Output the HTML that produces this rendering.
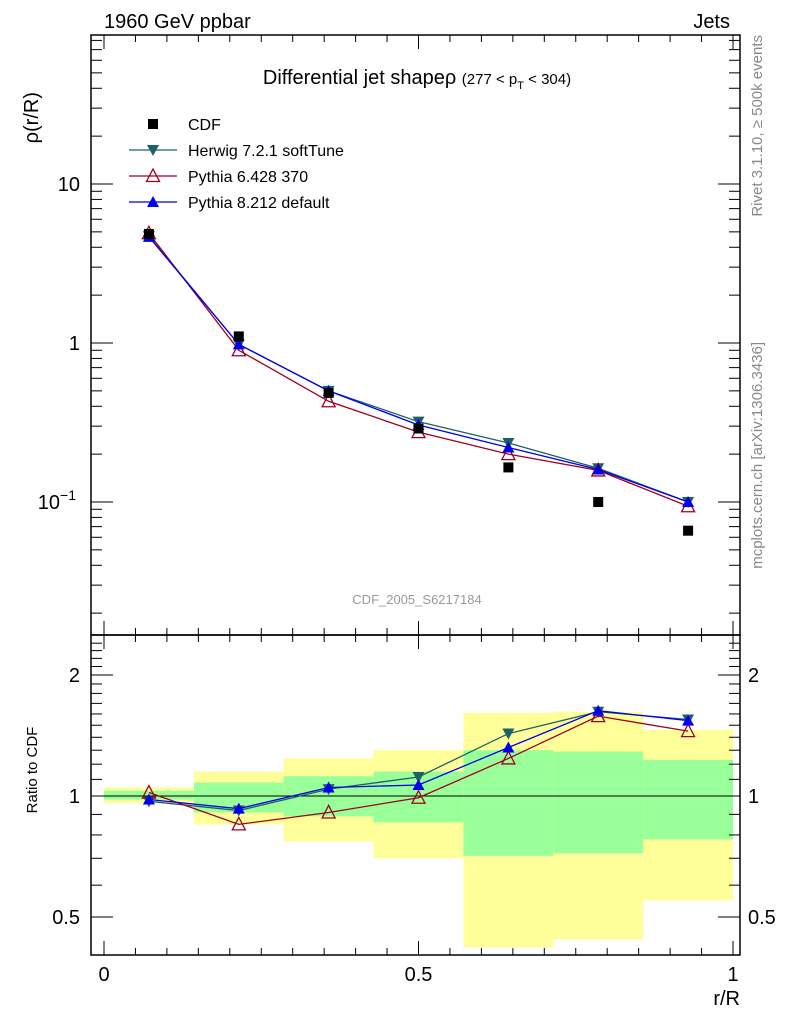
<!DOCTYPE html>
<html><head><meta charset="utf-8"><style>
html,body{margin:0;padding:0;background:#fff;overflow:hidden;width:786px;height:1024px;}
svg{display:block;font-family:"Liberation Sans",sans-serif;}
</style></head><body>
<svg id="c" width="786" height="1024" xmlns="http://www.w3.org/2000/svg">
<text x="104" y="28" font-size="20">1960 GeV ppbar</text>
<text x="730" y="28" font-size="20" text-anchor="end">Jets</text>
<text x="417" y="84" font-size="20" text-anchor="middle">Differential jet shapeρ <tspan font-size="15">(277 &lt; p</tspan><tspan font-size="11" dy="5">T</tspan><tspan font-size="15" dy="-5"> &lt; 304)</tspan></text>
<text transform="translate(38,92) rotate(-90)" font-size="20" text-anchor="end">ρ(r/R)</text>
<text transform="translate(37,770) rotate(-90)" font-size="15" text-anchor="middle">Ratio to CDF</text>
<text x="740" y="1005" font-size="20" text-anchor="end">r/R</text>
<text transform="translate(762,35) rotate(-90)" font-size="15" fill="#888" text-anchor="end">Rivet 3.1.10, ≥ 500k events</text>
<text transform="translate(762,342) rotate(-90)" font-size="15" fill="#888" text-anchor="end">mcplots.cern.ch [arXiv:1306.3436]</text>
<text x="417" y="604" font-size="13" fill="#999" text-anchor="middle">CDF_2005_S6217184</text>
<g id="bands"></g><g id="main"></g><g id="ratio"></g><g id="axes"></g>
<g id="legend"></g>
</svg>
<script>
const xCenters=[0.0714,0.2143,0.3571,0.5,0.6429,0.7857,0.9286];
const binEdges=[0,0.1429,0.2857,0.4286,0.5714,0.7143,0.8571,1.0];
const cdf=[4.85,1.1,0.485,0.29,0.165,0.1,0.066];
const herwig=[4.7,0.98,0.5,0.32,0.235,0.163,0.1];
const pythia6=[4.9,0.9,0.43,0.275,0.2,0.158,0.094];
const pythia8=[4.65,0.98,0.5,0.305,0.22,0.16,0.1];
const herwigRatio=[0.97,0.92,1.04,1.115,1.43,1.62,1.55];
const pythia6Ratio=[1.02,0.85,0.91,0.99,1.24,1.58,1.45];
const pythia8Ratio=[0.98,0.93,1.05,1.065,1.32,1.63,1.54];
const yellowHi=[1.05,1.15,1.24,1.30,1.61,1.62,1.46];
const yellowLo=[0.96,0.85,0.77,0.70,0.42,0.44,0.55];
const greenHi=[1.03,1.08,1.12,1.15,1.30,1.29,1.23];
const greenLo=[0.98,0.91,0.89,0.86,0.71,0.72,0.78];
const ratioTicks=[0.5,1,2];
const xTicks=[0,0.5,1];

const NS="http://www.w3.org/2000/svg";
const L=91,R=740,T=35,MB=635,RB=955;
const X=v=>104+v*629;
const Y=v=>343-159*Math.log10(v);
const YR=v=>796-121*Math.log2(v);
function mk(p,tag,at){const e=document.createElementNS(NS,tag);for(const k in at)e.setAttribute(k,at[k]);document.getElementById(p).appendChild(e);return e;}

for(let i=0;i<7;i++){
 let e=mk('bands','rect',{x:X(binEdges[i]),y:YR(yellowHi[i]),width:X(binEdges[i+1])-X(binEdges[i]),height:YR(yellowLo[i])-YR(yellowHi[i]),fill:'#ffff99'});
 
 
 let g=mk('bands','rect',{x:X(binEdges[i]),y:YR(greenHi[i]),width:X(binEdges[i+1])-X(binEdges[i]),height:YR(greenLo[i])-YR(greenHi[i]),fill:'#99ff99'});
 
 
}
let one=mk('bands','line',{x1:L,x2:R,y1:YR(1),y2:YR(1),stroke:'#000','stroke-width':1});



function marker(p,type,x,y,col,name){
 let e;
 if(type==='sq') e=mk(p,'rect',{x:x-5,y:y-5,width:10,height:10,fill:'#000'});
 else if(type==='down') e=mk(p,'polygon',{points:`${x-6},${y-5} ${x+6},${y-5} ${x},${y+6}`,fill:col});
 else if(type==='up') e=mk(p,'polygon',{points:`${x-6},${y+5} ${x+6},${y+5} ${x},${y-6}`,fill:col});
 else e=mk(p,'polygon',{points:`${x-6.5},${y+5.5} ${x+6.5},${y+5.5} ${x},${y-7}`,fill:'none',stroke:col,'stroke-width':1.3});
 
 
}
function series(p,vals,yf,col,type,name){
 const pl=mk(p,'polyline',{points:vals.map((v,i)=>X(xCenters[i])+','+yf(v)).join(' '),fill:'none',stroke:col,'stroke-width':1.3});
 
 
 vals.forEach((v,i)=>marker(p,type,X(xCenters[i]),yf(v),col,name+'-point'));
}
series('main',herwig,Y,'#1f6068','down','herwig');
series('main',pythia6,Y,'#a00020','open','pythia6');
series('main',pythia8,Y,'#0000ee','up','pythia8');
cdf.forEach((v,i)=>marker('main','sq',X(xCenters[i]),Y(v),'#000','cdf-point'));
series('ratio',herwigRatio,YR,'#1f6068','down','herwig-ratio');
series('ratio',pythia6Ratio,YR,'#a00020','open','pythia6-ratio');
series('ratio',pythia8Ratio,YR,'#0000ee','up','pythia8-ratio');

[[T,MB],[MB,RB]].forEach(([a,b],k)=>{
 const r=mk('axes','rect',{x:L,y:a,width:R-L,height:b-a,fill:'none',stroke:'#000','stroke-width':1.5});
 
 
});
for(let i=0;i<=20;i++){const v=i*0.05,x=X(v),len=(i%10===0)?14:7;
 [T,MB].forEach(y0=>{mk('axes','line',{x1:x,x2:x,y1:y0,y2:y0+len,stroke:'#000'});});
 [MB,RB].forEach(y0=>{mk('axes','line',{x1:x,x2:x,y1:y0,y2:y0-len,stroke:'#000'});});
}
xTicks.forEach(v=>{const t=mk('axes','text',{x:X(v),y:981,'font-size':20,'text-anchor':'middle'});t.textContent=v;
 
 });
for(let d=-2;d<=1;d++)for(let m=1;m<10;m++){const v=m*Math.pow(10,d),y=Y(v);if(y<T||y>MB)continue;const len=m===1?22:11;
 mk('axes','line',{x1:L,x2:L+len,y1:y,y2:y,stroke:'#000'});mk('axes','line',{x1:R,x2:R-len,y1:y,y2:y,stroke:'#000'});}
[[10,'10',''],[1,'1',''],[0.1,'10','−1']].forEach(([v,b,s])=>{const t=mk('axes','text',{x:s?76:80,y:Y(v)+7,'font-size':20,'text-anchor':'end'});
 t.textContent=b; if(s){const sp=document.createElementNS(NS,'tspan');sp.setAttribute('font-size','14');sp.setAttribute('dy','-9');sp.textContent=s;t.appendChild(sp);}
 
 });
for(let v=0.4;v<=2.5;v+=0.1){const y=YR(v);if(y<MB||y>RB)continue;const maj=[0.5,1,2].some(u=>Math.abs(u-v)<1e-6);const len=maj?22:11;
 mk('axes','line',{x1:L,x2:L+len,y1:y,y2:y,stroke:'#000'});mk('axes','line',{x1:R,x2:R-len,y1:y,y2:y,stroke:'#000'});}
ratioTicks.forEach(v=>{[[80,'end'],[748,'start']].forEach(([x,a])=>{const t=mk('axes','text',{x:x,y:YR(v)+7,'font-size':20,'text-anchor':a});t.textContent=v;
 
 });});

const leg=[['CDF','sq','#000'],['Herwig 7.2.1 softTune','down','#1f6068'],['Pythia 6.428 370','open','#a00020'],['Pythia 8.212 default','up','#0000ee']];
leg.forEach(([n,t,c],i)=>{const y=124+i*26;
 if(t!=='sq'){const l=mk('legend','line',{x1:129,x2:177,y1:y,y2:y,stroke:c,'stroke-width':1.3});}
 marker('legend',t,153,y,c,'legend-marker');
 const tx=mk('legend','text',{x:188,y:y+6,'font-size':16});tx.textContent=n;
 
 });
</script>
</body></html>
